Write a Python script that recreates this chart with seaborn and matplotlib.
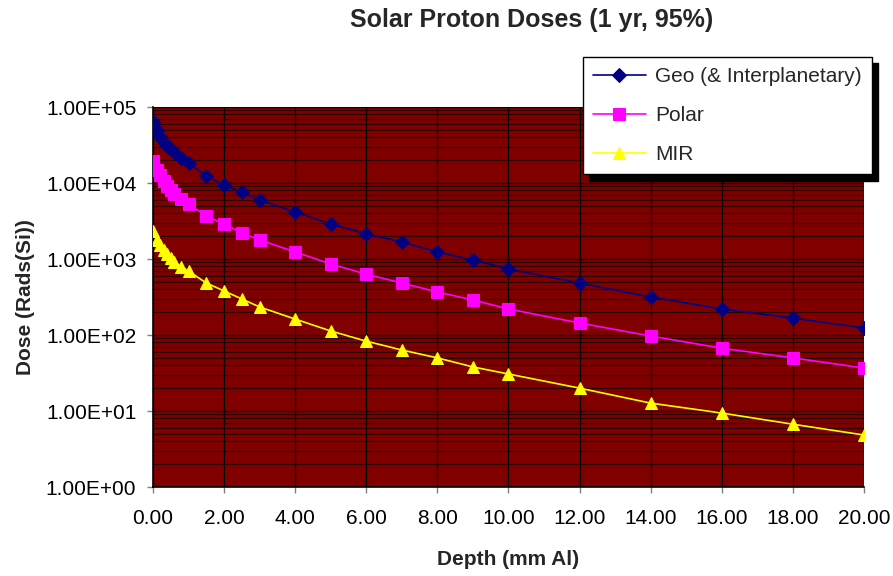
import matplotlib
matplotlib.use("Agg")
import matplotlib.pyplot as plt
from matplotlib.ticker import FixedLocator, FuncFormatter, LogLocator, NullFormatter
import numpy as np
import pandas as pd
import seaborn as sns

# Shielding depth (mm Al)
depth = [0.0, 0.1, 0.2, 0.3, 0.4, 0.5, 0.6, 0.8, 1.0, 1.5, 2.0, 2.5, 3.0,
         4.0, 5.0, 6.0, 7.0, 8.0, 9.0, 10.0, 12.0, 14.0, 16.0, 18.0, 20.0]

# Dose (rads(Si)) for each orbit
geo = [63500, 50000, 40300, 34600, 30700, 28000, 25600, 21400, 18300, 12400,
       9400, 7600, 5970, 4150, 2890, 2140, 1680, 1240, 970, 740, 483, 316,
       220, 167, 124]
polar = [19500, 14800, 12700, 10600, 9120, 8090, 7160, 6170, 5290, 3680,
         2890, 2200, 1780, 1240, 859, 632, 483, 368, 289, 220, 144, 97,
         67, 50, 36.8]
mir = [2340, 1780, 1530, 1320, 1160, 1030, 912, 785, 695, 483, 380, 298,
       234, 162, 113, 83, 63.5, 50, 38, 30.7, 20, 12.7, 9.4, 6.7, 4.83]

series_names = ["Geo (& Interplanetary)", "Polar", "MIR"]
series_values = [geo, polar, mir]
x_ticks = [0, 2, 4, 6, 8, 10, 12, 14, 16, 18, 20]

df = pd.concat(
    [pd.DataFrame({"Depth": depth, "Dose": vals, "Orbit": name})
     for name, vals in zip(series_names, series_values)],
    ignore_index=True,
)

sns.set_theme(style="white")
plt.rcParams["font.family"] = ["Liberation Sans", "DejaVu Sans"]

fig = plt.figure(figsize=(8.93, 5.76), dpi=100)
ax = fig.add_axes([0.1713, 0.1545, 0.7962, 0.6597])
ax.set_facecolor("#800000")

styles = {
    "Geo (& Interplanetary)": dict(color="#000080", marker="D", markersize=7),
    "Polar": dict(color="#FF00FF", marker="s", markersize=8),
    "MIR": dict(color="#FFFF00", marker="^", markersize=9),
}

for name in series_names:
    st = styles[name]
    sns.lineplot(
        data=df[df["Orbit"] == name], x="Depth", y="Dose", ax=ax,
        color=st["color"], marker=st["marker"], markersize=st["markersize"],
        markeredgecolor=st["color"], markerfacecolor=st["color"],
        linewidth=1.2, label=name, zorder=5,
    )

ax.set_yscale("log")
ax.set_ylim(1, 1e5)
ax.set_xlim(0, 20)

ax.xaxis.set_major_locator(FixedLocator(x_ticks))
ax.xaxis.set_major_formatter(FuncFormatter(lambda v, p: f"{v:.2f}"))
ax.yaxis.set_major_locator(LogLocator(base=10, numticks=10))
ax.yaxis.set_minor_locator(LogLocator(base=10, subs=np.arange(2, 10), numticks=20))
ax.yaxis.set_minor_formatter(NullFormatter())
ax.yaxis.set_major_formatter(FuncFormatter(lambda v, p: f"{v:.2E}"))

ax.grid(True, which="major", axis="both", color="black", linewidth=0.9, zorder=1)
ax.grid(True, which="minor", axis="y", color="#2a0000", linewidth=0.9, zorder=1)
ax.set_axisbelow(True)

for side in ["top", "right"]:
    ax.spines[side].set_visible(False)
for side in ["left", "bottom"]:
    ax.spines[side].set_color("black")
    ax.spines[side].set_linewidth(1.2)

ax.tick_params(axis="both", which="major", direction="out", length=4,
               width=1, color="#808080", labelsize=15, labelcolor="black",
               bottom=True, left=True)
ax.tick_params(axis="x", which="major", pad=12)
ax.tick_params(axis="y", which="major", pad=8)
ax.tick_params(axis="y", which="minor", left=False)

ax.set_xlabel("Depth (mm Al)", fontsize=15, fontweight="bold", labelpad=16)
ax.set_ylabel("Dose (Rads(Si))", fontsize=15, fontweight="bold", labelpad=8)
fig.text(0.595, 0.965, "Solar Proton Doses (1 yr, 95%)", ha="center",
         va="center", fontsize=18, fontweight="bold")

leg = ax.legend(
    loc="upper left", bbox_to_anchor=(583 / 893, 1 - 57 / 576),
    bbox_transform=fig.transFigure, fontsize=15, frameon=True,
    fancybox=False, edgecolor="black", framealpha=1, borderpad=0.5,
    borderaxespad=0, handlelength=2.5, handletextpad=0.45, labelspacing=0.95,
    shadow={"ox": 4.5, "oy": -4.5, "color": "black", "alpha": 1},
)
leg.get_frame().set_linewidth(1.0)
leg.set_zorder(10)

fig.savefig("out.png", dpi=100, facecolor="white")
